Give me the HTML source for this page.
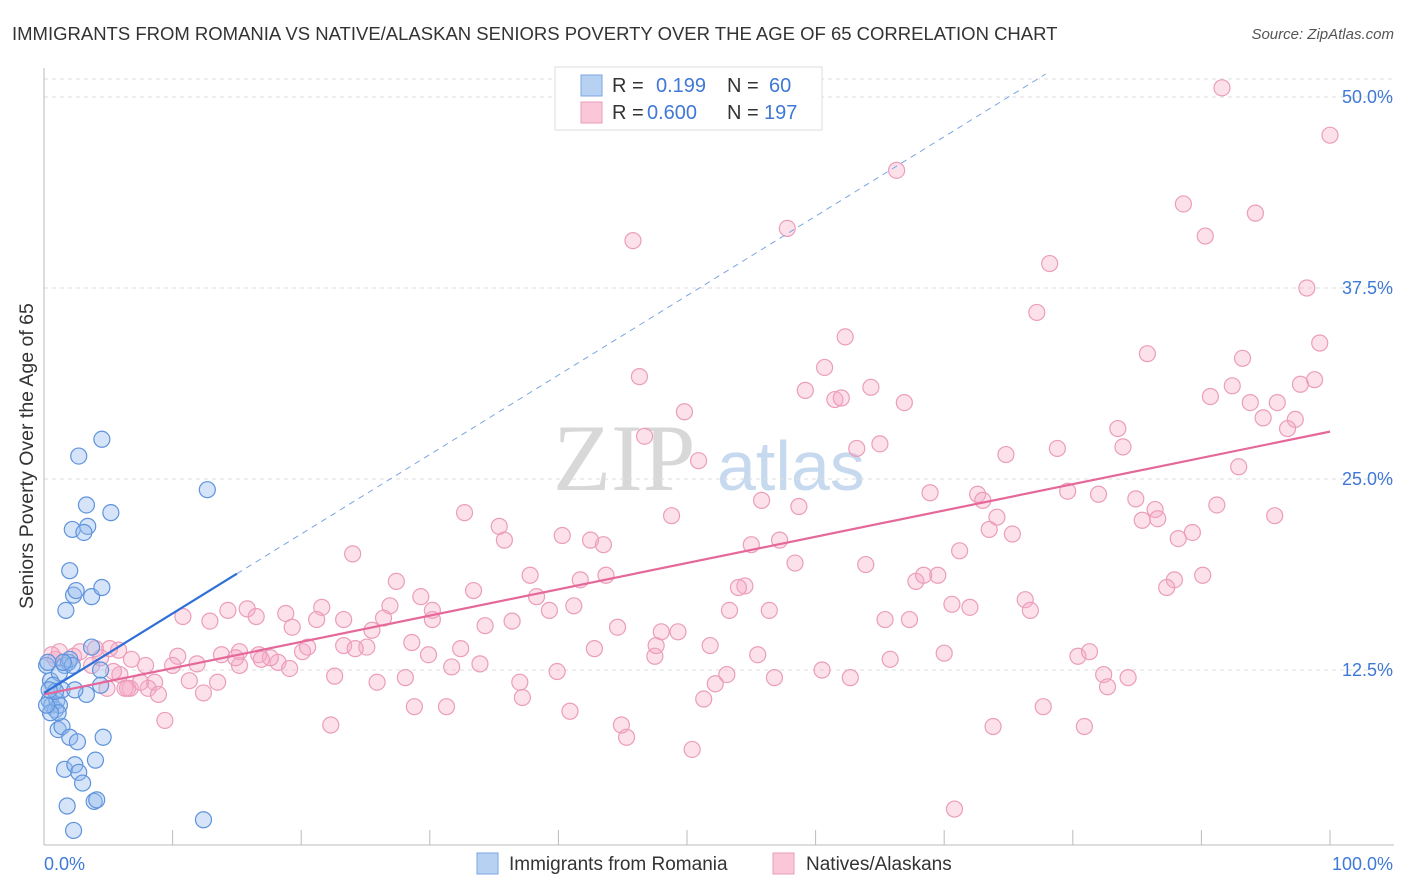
<!DOCTYPE html>
<html><head><meta charset="utf-8"><style>
body{margin:0;background:#fff;font-family:"Liberation Sans",sans-serif}
#wrap{position:relative;width:1406px;height:892px;overflow:hidden}
</style></head><body><div id="wrap">
<svg id="svg" width="1406" height="892" xmlns="http://www.w3.org/2000/svg">
<text x="12" y="40" font-size="18.5" fill="#333">IMMIGRANTS FROM ROMANIA VS NATIVE/ALASKAN SENIORS POVERTY OVER THE AGE OF 65 CORRELATION CHART</text>
<text x="1394" y="39" font-size="15" fill="#555" font-style="italic" text-anchor="end">Source: ZipAtlas.com</text>
<text x="33" y="456" font-size="19.5" fill="#333" text-anchor="middle" transform="rotate(-90 33 456)">Seniors Poverty Over the Age of 65</text>
<g><text x="553" y="490" font-size="95" fill="#d8d8d8" font-family="Liberation Serif,serif">ZIP</text><text x="717" y="490" font-size="70" fill="#c6d9ef">atlas</text></g>
<g id="grid"></g><g id="marks"></g>
<g>
<rect x="555" y="67" width="267" height="63" fill="#fff" stroke="#ddd"/>
<rect x="581" y="75" width="21" height="21" fill="#b7d1f3" stroke="#7ba6e0"/>
<text x="612" y="92" font-size="20" fill="#333">R = </text><text x="656" y="92" font-size="20" fill="#3f78d6">0.199</text>
<text x="727" y="92" font-size="20" fill="#333">N = </text><text x="769" y="92" font-size="20" fill="#3f78d6">60</text>
<rect x="581" y="102" width="21" height="21" fill="#f9c7d7" stroke="#ea9cb7"/>
<text x="612" y="119" font-size="20" fill="#333">R = </text><text x="647" y="119" font-size="20" fill="#3f78d6">0.600</text>
<text x="727" y="119" font-size="20" fill="#333">N = </text><text x="764" y="119" font-size="20" fill="#3f78d6">197</text>
</g>
<g>
<rect x="477" y="853" width="21" height="21" fill="#b7d1f3" stroke="#7ba6e0"/>
<text x="509" y="870" font-size="19" fill="#333">Immigrants from Romania</text>
<rect x="773" y="853" width="21" height="21" fill="#f9c7d7" stroke="#ea9cb7"/>
<text x="806" y="870" font-size="19" fill="#333">Natives/Alaskans</text>
</g>
<text x="44" y="870" font-size="18" fill="#3f78d6">0.0%</text>
<text x="1393" y="870" font-size="18" fill="#3f78d6" text-anchor="end">100.0%</text>
</svg></div>
<script>
const yTicks=[12.5,25,37.5,50];
const yTickLabels=["12.5%","25.0%","37.5%","50.0%"];
const xTicks=[0,10,20,30,40,50,60,70,80,90,100];
const blueX=[0.2,0.5,0.4,0.6,0.9,1.0,1.2,1.4,1.6,1.9,2.0,2.2,1.1,1.4,2.0,2.6,1.6,2.4,2.7,3.0,1.8,3.9,4.1,2.3,12.4,4.6,3.3,2.4,1.2,0.7,1.7,2.0,2.3,3.7,4.5,2.5,2.2,3.4,3.1,3.3,5.2,2.7,4.5,12.7,3.7,4.4,4.4,1.5,0.3,0.9,1.1,0.5,4.0,0.2,0.4];
const blueY=[12.8,11.8,10.5,10.2,9.9,10.5,10.2,11.2,12.8,13.0,13.2,12.8,8.6,8.8,8.1,7.8,6.0,6.3,5.8,5.1,3.6,3.9,4.0,2.0,2.7,8.1,10.9,11.2,12.3,11.5,16.4,19.0,17.4,17.3,17.9,17.7,21.7,21.9,21.5,23.3,22.8,26.5,27.6,24.3,14.0,12.5,11.5,13.0,13.0,11.1,9.7,9.7,6.6,10.2,11.2];
const pinkX=[91.6,100,66.3,88.6,94.2,45.8,57.8,90.3,78.2,98.2,77.2,62.3,99.2,85.8,93.2,60.7,46.3,98.8,97.7,92.4,59.2,64.3,90.7,61.5,62.0,66.9,49.8,93.8,95.9,94.8,97.3,96.7,83.5,46.7,65.0,63.2,78.8,83.9,50.9,74.8,92.9,68.9,72.6,79.6,82.0,84.9,86.4,55.8,58.7,73.0,32.7,48.8,91.2,95.7,85.4,86.6,74.1,35.4,35.8,40.3,42.5,43.5,55.0,57.2,88.2,75.3,73.5,89.3,24.0,71.2,37.8,41.7,27.4,43.7,54.5,54.0,67.8,69.5,68.4,63.9,58.4,90.1,87.9,87.3,33.4,29.3,38.3,41.2,39.3,26.9,30.2,21.6,23.3,18.8,15.8,14.3,10.8,12.9,16.5,53.3,56.4,70.6,72.0,76.3,76.7,65.4,67.3,30.2,26.4,34.3,36.4,21.2,19.3,25.5,23.3,28.6,32.4,25.1,24.2,20.1,15.2,13.8,10.4,11.9,6.8,7.9,5.8,3.7,2.3,4.4,5.1,1.2,0.9,0.6,2.8,4.0,18.2,17.6,16.7,15.2,10.0,11.3,13.5,8.6,5.9,5.4,6.7,8.1,7.5,6.3,8.9,12.4,9.4,22.3,25.9,28.8,31.3,28.1,29.9,33.9,31.7,37.0,37.2,39.9,42.8,44.6,48.0,49.3,47.5,47.6,51.8,53.1,52.2,51.3,55.5,56.8,60.5,62.7,65.8,70.0,80.4,81.3,82.4,82.7,84.3,77.7,80.9,73.8,70.8,50.4,45.3,44.9,40.9,20.5,19.1,16.9,22.6,14.9,4.9,6.5];
const pinkY=[50.6,47.5,45.2,43.0,42.4,40.6,41.4,40.9,39.1,37.5,35.9,34.3,33.9,33.2,32.9,32.3,31.7,31.5,31.2,31.1,30.8,31.0,30.4,30.2,30.3,30.0,29.4,30.0,30.0,29.0,28.9,28.3,28.3,27.8,27.3,27.0,27.0,27.1,26.2,26.6,25.8,24.1,24.0,24.2,24.0,23.7,23.0,23.6,23.2,23.6,22.8,22.6,23.3,22.6,22.3,22.4,22.5,21.9,21.0,21.3,21.0,20.7,20.7,21.0,21.1,21.4,21.7,21.5,20.1,20.3,18.7,18.4,18.3,18.7,18.0,17.9,18.3,18.7,18.7,19.4,19.5,18.7,18.4,17.9,17.7,17.3,17.3,16.7,16.4,16.7,16.4,16.6,15.8,16.2,16.5,16.4,16.0,15.7,16.0,16.4,16.4,16.8,16.6,17.1,16.4,15.8,15.8,15.8,15.9,15.4,15.7,15.8,15.3,15.1,14.1,14.3,13.9,14.0,13.9,13.7,13.7,13.5,13.4,12.9,13.2,12.8,13.8,12.8,13.4,13.3,13.9,13.7,13.2,13.5,13.7,13.9,13.0,13.3,13.5,12.8,12.8,11.8,11.7,11.7,12.2,12.4,11.3,11.3,11.7,11.3,10.9,11.0,9.2,8.9,11.7,10.1,10.1,12.0,13.5,12.9,12.7,11.7,10.7,12.4,13.9,15.3,15.0,15.0,13.4,14.1,14.1,12.2,11.6,10.6,13.5,12.0,12.5,12.0,13.2,13.6,13.4,13.7,12.2,11.4,12.0,10.1,8.8,8.8,3.4,7.3,8.1,8.9,9.8,14.0,12.6,13.2,12.1,13.3,11.3,11.3];
const blueTrend=[11.0,0.52];
const pinkTrend=[10.9,0.172];
const X=v=>44+v*12.86, Y=v=>861-v*15.28;
const NS="http://www.w3.org/2000/svg";
const gridG=document.getElementById('grid'), marksG=document.getElementById('marks');
function mk(tag,attrs,parent){const e=document.createElementNS(NS,tag);for(const k in attrs)e.setAttribute(k,attrs[k]);parent.appendChild(e);return e;}
const topLine=mk('line',{x1:44,x2:1394,y1:79,y2:79,stroke:'#ddd','stroke-dasharray':'4 4'},gridG);


yTicks.forEach((t,i)=>{
 const g=mk('line',{x1:44,x2:1394,y1:Y(t),y2:Y(t),stroke:'#ddd','stroke-dasharray':'4 4'},gridG);
 
 
 const l=mk('text',{x:1393,y:Y(t)+6,'font-size':18,fill:'#3f78d6','text-anchor':'end'},gridG);
 l.textContent=yTickLabels[i];
 
 
});
const ax=mk('line',{x1:44,x2:1394,y1:845,y2:845,stroke:'#bbb'},gridG);


const ay=mk('line',{x1:44,x2:44,y1:68,y2:845,stroke:'#bbb'},gridG);


xTicks.forEach(t=>{
 const k=mk('line',{x1:X(t),x2:X(t),y1:830,y2:845,stroke:'#bbb'},gridG);
 
 
});
pinkX.forEach((x,i)=>{
 const c=mk('circle',{cx:X(x),cy:Y(pinkY[i]),r:8,fill:'rgba(246,170,198,0.35)',stroke:'#eb9dba','stroke-width':1.2},marksG);
 
 
});
blueX.forEach((x,i)=>{
 const c=mk('circle',{cx:X(x),cy:Y(blueY[i]),r:8,fill:'rgba(150,188,238,0.4)',stroke:'#5e93dc','stroke-width':1.2},marksG);
 
 
});
const pl=mk('line',{x1:X(0),y1:Y(pinkTrend[0]),x2:X(100),y2:Y(pinkTrend[0]+100*pinkTrend[1]),stroke:'#e5689a','stroke-width':2.2},marksG);


const xe=(51.5-blueTrend[0])/blueTrend[1];
const bd=mk('line',{x1:X(15),y1:Y(blueTrend[0]+15*blueTrend[1]),x2:X(xe),y2:Y(51.5),stroke:'#7ba6e0','stroke-width':1,'stroke-dasharray':'6 5'},marksG);


const bl=mk('line',{x1:X(0),y1:Y(blueTrend[0]),x2:X(15),y2:Y(blueTrend[0]+15*blueTrend[1]),stroke:'#2f6fd6','stroke-width':2.2},marksG);


</script></body></html>
